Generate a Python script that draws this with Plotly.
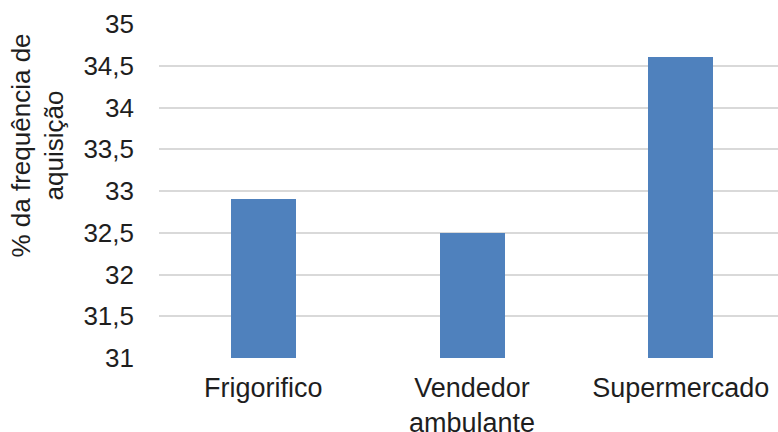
import plotly.graph_objects as go

categories = ["Frigorifico", "Vendedor<br>ambulante", "Supermercado"]
values = [32.9, 32.5, 34.6]
y_tickvals = [31, 31.5, 32, 32.5, 33, 33.5, 34, 34.5, 35]
y_ticktext = ["31", "31,5", "32", "32,5", "33", "33,5", "34", "34,5", "35"]
y_title = "% da frequência de<br>aquisição"

FONT = "Liberation Sans, Arial, sans-serif"
TXT = "#1e1e1e"

fig = go.Figure(
    go.Bar(
        x=list(range(len(categories))),
        y=values,
        base=0,
        width=0.311,
        marker=dict(color="#4F81BD", line=dict(width=0)),
    )
)

L, R, T, B = 159, 0, 24, 74
W, H = 778, 432
pw = W - L - R
ph = H - T - B

fig.update_layout(
    width=W,
    height=H,
    margin=dict(l=L, r=R, t=T, b=B, pad=0),
    paper_bgcolor="white",
    plot_bgcolor="white",
    font=dict(family=FONT, size=26, color=TXT),
    showlegend=False,
    bargap=0,
)
fig.update_xaxes(
    automargin=False,
    range=[-0.5, 2.466],
    tickvals=list(range(len(categories))),
    ticktext=categories,
    showgrid=False,
    showline=False,
    zeroline=False,
    ticks="",
    ticklabelstandoff=11,
    tickfont=dict(family=FONT, size=27, color=TXT),
)
fig.update_yaxes(
    automargin=False,
    range=[31, 35],
    tickvals=y_tickvals,
    ticktext=y_ticktext,
    showgrid=True,
    gridcolor="#d9d9d9",
    gridwidth=2,
    zeroline=False,
    showline=False,
    ticks="",
    ticklabelstandoff=24,
    tickfont=dict(family=FONT, size=26, color=TXT),
)
fig.add_annotation(
    text=y_title,
    textangle=-90,
    xref="paper",
    yref="paper",
    x=(37.5 - L) / pw,
    y=1 - (146 - T) / ph,
    xanchor="center",
    yanchor="middle",
    showarrow=False,
    font=dict(family=FONT, size=26, color=TXT),
)

fig.write_html("out.html")
